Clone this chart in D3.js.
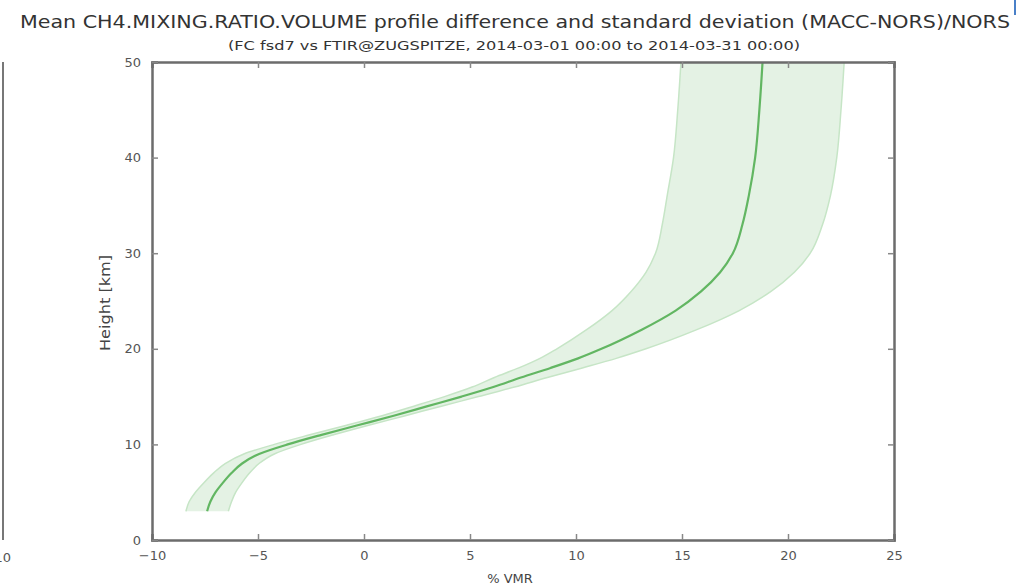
<!DOCTYPE html>
<html>
<head>
<meta charset="utf-8">
<script src="https://cdn.jsdelivr.net/npm/d3@7.9.0/dist/d3.min.js"></script>
<style>
  body { margin: 0; background: #fff; }
  svg { display: block; font-family: "DejaVu Sans", sans-serif; }
</style>
</head>
<body>
<svg id="chart" width="1023" height="588"></svg>
<script>
// profile data
const heights = [3, 4, 5, 6, 7, 8, 9, 10, 11, 12, 13, 14, 15, 16, 17, 18, 19, 20, 22, 24, 26, 28, 30, 33, 36, 40, 45, 50];
const meanDiff = [-7.4, -7.25, -7.0, -6.65, -6.25, -5.75, -4.95, -3.6, -2.0, -0.3, 1.4, 3.0, 4.6, 6.1, 7.4, 8.8, 10.1, 11.2, 13.1, 14.7, 15.9, 16.8, 17.4, 17.85, 18.15, 18.45, 18.65, 18.8];
const stdDev = [1.0, 1.0, 0.95, 0.9, 0.85, 0.8, 0.72, 0.63, 0.56, 0.52, 0.55, 0.65, 0.8, 1.0, 1.25, 1.5, 1.8, 2.1, 2.6, 3.0, 3.3, 3.5, 3.65, 3.78, 3.85, 3.85, 3.85, 3.85];
const xTicks = [-10, -5, 0, 5, 10, 15, 20, 25];
const yTicks = [0, 10, 20, 30, 40, 50];

const title = 'Mean CH4.MIXING.RATIO.VOLUME profile difference and standard deviation (MACC-NORS)/NORS';
const subtitle = '(FC fsd7 vs FTIR@ZUGSPITZE, 2014-03-01 00:00 to 2014-03-31 00:00)';

const rows = heights.map((h, i) => ({ h: h, m: meanDiff[i], s: stdDev[i] }));

const svg = d3.select('#chart');
const margin = { left: 152, right: 130, top: 62, bottom: 48 };
const W = 1023, H = 588;

const x = d3.scaleLinear().domain([-10, 25]).range([margin.left, W - margin.right + 1]);
const y = d3.scaleLinear().domain([0, 50]).range([H - margin.bottom, margin.top]);

// titles
svg.append('text')
  .attr('x', 515).attr('y', 28)
  .attr('text-anchor', 'middle')
  .attr('font-size', 17).attr('fill', '#333')
  .attr('textLength', 990).attr('lengthAdjust', 'spacingAndGlyphs')
  .text(title);
svg.append('text')
  .attr('x', 514).attr('y', 50)
  .attr('text-anchor', 'middle')
  .attr('font-size', 12).attr('fill', '#333')
  .attr('textLength', 572).attr('lengthAdjust', 'spacingAndGlyphs')
  .text(subtitle);

// left-over bits of neighbouring plots
svg.append('line')
  .attr('x1', 3).attr('x2', 3).attr('y1', y(50)).attr('y2', y(0))
  .attr('stroke', '#777').attr('stroke-width', 2);
svg.append('text')
  .attr('x', 11).attr('y', 562).attr('text-anchor', 'end')
  .attr('font-size', 13).attr('fill', '#555').text('10');
svg.append('line')
  .attr('x1', 1015).attr('x2', 1015).attr('y1', 0).attr('y2', 15)
  .attr('stroke', '#4a80c8').attr('stroke-width', 2);

// clip to the axes box
svg.append('clipPath').attr('id', 'clip')
  .append('rect')
  .attr('x', x(-10)).attr('y', y(50))
  .attr('width', x(25) - x(-10)).attr('height', y(0) - y(50));

const plot = svg.append('g').attr('clip-path', 'url(#clip)');

const area = d3.area()
  .y((d) => y(d.h))
  .x0((d) => x(d.m - d.s))
  .x1((d) => x(d.m + d.s))
  .curve(d3.curveMonotoneY);

plot.append('path')
  .datum(rows)
  .attr('d', area)
  .attr('fill', '#e4f2e4')
  .attr('stroke', 'none');

// band edges
[-1, 1].forEach((sign) => {
  plot.append('path')
    .datum(rows)
    .attr('d', d3.line()
      .x((d) => x(d.m + sign * d.s))
      .y((d) => y(d.h))
      .curve(d3.curveMonotoneY))
    .attr('fill', 'none')
    .attr('stroke', '#c6e5c6')
    .attr('stroke-width', 1.5);
});

plot.append('path')
  .datum(rows)
  .attr('d', d3.line()
    .x((d) => x(d.m))
    .y((d) => y(d.h))
    .curve(d3.curveMonotoneY))
  .attr('fill', 'none')
  .attr('stroke', '#62b662')
  .attr('stroke-width', 2.2);

// axes: ticks pointing inwards on all four sides
const fmt = (d) => (d < 0 ? '\u2212' + Math.abs(d) : String(d));

const axBottom = svg.append('g').attr('transform', `translate(0,${y(0)})`)
  .call(d3.axisBottom(x).tickValues(xTicks).tickSize(-6).tickPadding(11).tickFormat(fmt));
const axTop = svg.append('g').attr('transform', `translate(0,${y(50)})`)
  .call(d3.axisTop(x).tickValues(xTicks).tickSize(-6).tickFormat(''));
const axLeft = svg.append('g').attr('transform', `translate(${x(-10)},0)`)
  .call(d3.axisLeft(y).tickValues(yTicks).tickSize(-6).tickPadding(11).tickFormat(fmt));
const axRight = svg.append('g').attr('transform', `translate(${x(25)},0)`)
  .call(d3.axisRight(y).tickValues(yTicks).tickSize(-6).tickFormat(''));

[axBottom, axTop, axLeft, axRight].forEach((g) => {
  g.select('.domain').attr('stroke', '#6c6c6c').attr('stroke-width', 2.5);
  g.selectAll('.tick line').attr('stroke', '#888').attr('stroke-width', 1.5);
  g.selectAll('.tick text').attr('fill', '#555').attr('font-size', 13)
    .attr('font-family', '"DejaVu Sans", sans-serif');
});

// axis labels
svg.append('text')
  .attr('x', 510).attr('y', 583)
  .attr('text-anchor', 'middle')
  .attr('font-size', 13).attr('fill', '#444')
  .text('% VMR');
svg.append('text')
  .attr('transform', `translate(110,${(y(0) + y(50)) / 2 + 2}) rotate(-90)`)
  .attr('text-anchor', 'middle')
  .attr('font-size', 14).attr('fill', '#444')
  .attr('textLength', 96).attr('lengthAdjust', 'spacingAndGlyphs')
  .text('Height [km]');
</script>
</body>
</html>
